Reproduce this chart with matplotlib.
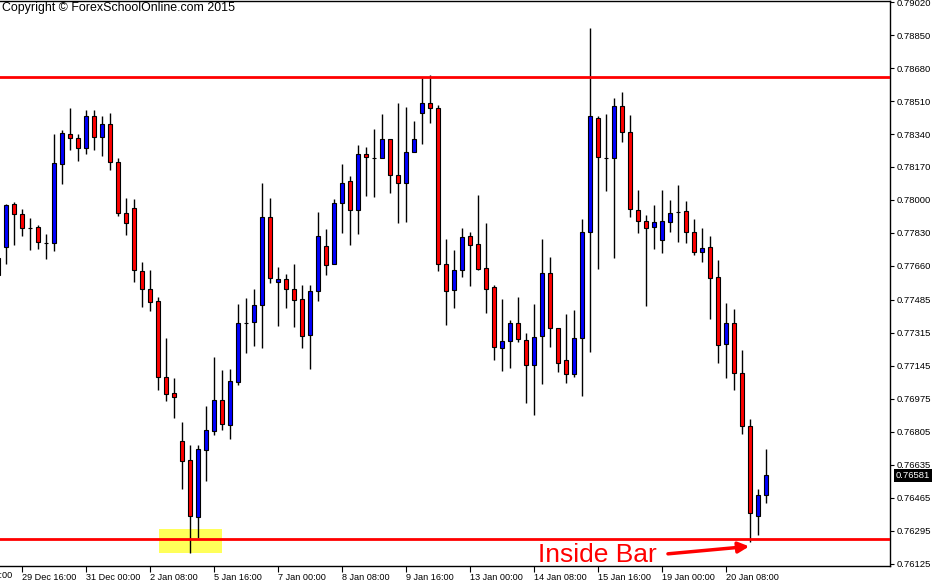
import numpy as np
import matplotlib.pyplot as plt
from matplotlib.patches import Rectangle

# 字体：Liberation Sans 接近 MT4 的 Tahoma
plt.rcParams['font.family'] = ['Liberation Sans', 'DejaVu Sans']

# 4H 蜡烛数据（第一根只露出一部分在左边）
opens = [0.77701, 0.77757, 0.77979, 0.77927, 0.77855, 0.77860, 0.77778, 0.77778, 0.78185, 0.78340,
         0.78319, 0.78268, 0.78433, 0.78324, 0.78391, 0.78195, 0.77933, 0.77958, 0.77634, 0.77541,
         0.77479, 0.77087, 0.77005, 0.76757, 0.76660, 0.76366, 0.76711, 0.76809, 0.76969, 0.76840,
         0.77062, 0.77366, 0.77371, 0.77458, 0.77912, 0.77577, 0.77592, 0.77541, 0.77489, 0.77304,
         0.77531, 0.77763, 0.77670, 0.77984, 0.78098, 0.77948, 0.78237, 0.78216, 0.78216, 0.78314,
         0.78128, 0.78087, 0.78247, 0.78448, 0.78500, 0.78474, 0.77670, 0.77536, 0.77639, 0.77814,
         0.77773, 0.77649, 0.77551, 0.77237, 0.77273, 0.77366, 0.77278, 0.77149, 0.77299, 0.77623,
         0.77340, 0.77175, 0.77103, 0.77288, 0.77835, 0.78422, 0.78216, 0.78216, 0.78484, 0.78350,
         0.77948, 0.77891, 0.77860, 0.77793, 0.77886, 0.77938, 0.77943, 0.77835, 0.77732, 0.77757,
         0.77603, 0.77257, 0.77366, 0.77108, 0.76835, 0.76371, 0.76479]
highs = [0.77757, 0.77979, 0.77989, 0.77953, 0.77907, 0.77871, 0.77824, 0.78340, 0.78360, 0.78474,
         0.78340, 0.78463, 0.78463, 0.78433, 0.78448, 0.78216, 0.78010, 0.78005, 0.77680, 0.77639,
         0.77500, 0.77288, 0.77082, 0.76855, 0.76737, 0.76737, 0.76938, 0.77190, 0.77123, 0.77129,
         0.77464, 0.77495, 0.77541, 0.78087, 0.78010, 0.77654, 0.77618, 0.77670, 0.77562, 0.77562,
         0.77938, 0.77850, 0.78005, 0.78185, 0.78123, 0.78283, 0.78273, 0.78366, 0.78443, 0.78314,
         0.78500, 0.78479, 0.78407, 0.78628, 0.78644, 0.78489, 0.77799, 0.77742, 0.77855, 0.77835,
         0.78025, 0.77881, 0.77562, 0.77489, 0.77381, 0.77500, 0.77314, 0.77464, 0.77799, 0.77706,
         0.77340, 0.77412, 0.77433, 0.77902, 0.78886, 0.78433, 0.78443, 0.78525, 0.78556, 0.78438,
         0.78051, 0.77922, 0.77974, 0.78051, 0.78000, 0.78077, 0.77994, 0.77902, 0.77855, 0.77814,
         0.77690, 0.77469, 0.77438, 0.77227, 0.76871, 0.76510, 0.76716]
lows = [0.77546, 0.77670, 0.77768, 0.77814, 0.77742, 0.77747, 0.77696, 0.77737, 0.78082, 0.78257,
        0.78201, 0.78237, 0.78257, 0.78226, 0.78154, 0.77917, 0.77819, 0.77577, 0.77448, 0.77428,
        0.77020, 0.76964, 0.76876, 0.76510, 0.76180, 0.76258, 0.76551, 0.76788, 0.76814, 0.76768,
        0.77046, 0.77211, 0.77247, 0.77237, 0.77572, 0.77350, 0.77443, 0.77345, 0.77237, 0.77129,
        0.77479, 0.77613, 0.77670, 0.77830, 0.77768, 0.77824, 0.78020, 0.78015, 0.78216, 0.78036,
        0.77881, 0.77886, 0.78247, 0.78288, 0.78396, 0.77634, 0.77355, 0.77443, 0.77603, 0.77556,
        0.77639, 0.77417, 0.77175, 0.77118, 0.77134, 0.77268, 0.76953, 0.76891, 0.77051, 0.77242,
        0.77113, 0.77056, 0.77087, 0.76989, 0.77216, 0.77644, 0.78046, 0.77701, 0.78299, 0.77912,
        0.77830, 0.77453, 0.77747, 0.77726, 0.77835, 0.77783, 0.77778, 0.77716, 0.77680, 0.77386,
        0.77160, 0.77082, 0.77020, 0.76794, 0.76237, 0.76273, 0.76438]
closes = [0.77613, 0.77974, 0.77927, 0.77855, 0.77855, 0.77783, 0.77778, 0.78190, 0.78345, 0.78319,
          0.78268, 0.78433, 0.78324, 0.78391, 0.78195, 0.77933, 0.77881, 0.77639, 0.77541, 0.77474,
          0.77087, 0.77000, 0.76984, 0.76654, 0.76371, 0.76716, 0.76814, 0.76969, 0.76845, 0.77067,
          0.77366, 0.77366, 0.77458, 0.77912, 0.77598, 0.77592, 0.77541, 0.77484, 0.77299, 0.77531,
          0.77814, 0.77665, 0.77984, 0.78087, 0.77948, 0.78237, 0.78221, 0.78216, 0.78314, 0.78128,
          0.78087, 0.78247, 0.78314, 0.78500, 0.78474, 0.77670, 0.77531, 0.77639, 0.77809, 0.77768,
          0.77644, 0.77541, 0.77242, 0.77273, 0.77366, 0.77283, 0.77149, 0.77294, 0.77623, 0.77340,
          0.77160, 0.77103, 0.77288, 0.77835, 0.78433, 0.78221, 0.78216, 0.78484, 0.78350, 0.77953,
          0.77891, 0.77855, 0.77886, 0.77891, 0.77933, 0.77938, 0.77835, 0.77732, 0.77752, 0.77598,
          0.77252, 0.77366, 0.77108, 0.76835, 0.76386, 0.76479, 0.76581]

# 时间轴标签（标签左对齐在刻度处）
x_ticks = [2, 10, 18, 26, 34, 42, 50, 58, 66, 74, 82, 90]
x_labels = ['29 Dec 16:00', '31 Dec 00:00', '2 Jan 08:00', '5 Jan 16:00', '7 Jan 00:00',
            '8 Jan 08:00', '9 Jan 16:00', '13 Jan 00:00', '14 Jan 08:00', '15 Jan 16:00',
            '19 Jan 00:00', '20 Jan 08:00']
y_ticks = [0.79020, 0.78850, 0.78680, 0.78510, 0.78340, 0.78170, 0.78000, 0.77830, 0.77660,
           0.77485, 0.77315, 0.77145, 0.76975, 0.76805, 0.76635, 0.76465, 0.76295, 0.76125]

resistance = 0.78635
support = 0.76254
last_price = 0.76581

x = np.arange(-1, len(opens) - 1)
o = np.array(opens)
c = np.array(closes)

fig = plt.figure(figsize=(9.34, 5.81), dpi=100)
ax = fig.add_axes([0, 0.02496, 0.95289, 0.97414])

# 黄色高亮框
ax.add_patch(Rectangle((19.1, 0.76180), 7.9, 0.00124, facecolor='#ffff59', edgecolor='none', zorder=1))

# 影线和实体
ax.vlines(x, lows, highs, color='black', linewidth=1, zorder=2)
colors = np.where(c > o, '#0000ff', '#ff0000')
ax.bar(x, np.abs(c - o), bottom=np.minimum(o, c), width=0.62, color=colors,
       edgecolor='black', linewidth=0.8, zorder=3)

# 支撑阻力线
ax.axhline(resistance, color='#ff0000', linewidth=2, zorder=4)
ax.axhline(support, color='#ff0000', linewidth=2, zorder=4)

ax.set_xlim(-0.75, 110.5)
ax.set_ylim(0.76111, 0.79028)

# 坐标轴
ax.spines['left'].set_visible(False)
for s in ['top', 'right', 'bottom']:
    ax.spines[s].set_linewidth(1)
ax.yaxis.tick_right()
ax.set_yticks(y_ticks)
ax.set_yticklabels(['%.5f' % v for v in y_ticks])
ax.tick_params(axis='y', length=3, width=0.8, pad=2, labelsize=6.8)
ax.set_xticks(x_ticks)
ax.set_xticklabels(x_labels, ha='left')
ax.tick_params(axis='x', length=4, width=0.8, pad=1, labelsize=6.6)
ax.text(-6, -0.0088, '28 Dec 08:00', transform=ax.get_xaxis_transform(), fontsize=6.6,
        ha='left', va='top', clip_on=False)

# 当前价格标签
ax.text(1.0065, last_price, '%.5f' % last_price, transform=ax.get_yaxis_transform(),
        color='white', fontsize=6.8, ha='left', va='center',
        bbox=dict(boxstyle='square,pad=0.2', facecolor='black', edgecolor='none'))

# 注释
ax.text(66.5, 0.76134, 'Inside Bar', color='#ff0000', fontsize=19, va='baseline', zorder=5)
ax.annotate('', xy=(93.25, 0.76216), xytext=(82.4, 0.76175),
            arrowprops=dict(arrowstyle='-|>', color='#ff0000', lw=2.5, mutation_scale=16), zorder=5)

fig.text(2 / 934, 1 - 2 / 581, 'Copyright © ForexSchoolOnline.com 2015', fontsize=8.9,
         ha='left', va='top')

fig.savefig('out.png', dpi=100)
